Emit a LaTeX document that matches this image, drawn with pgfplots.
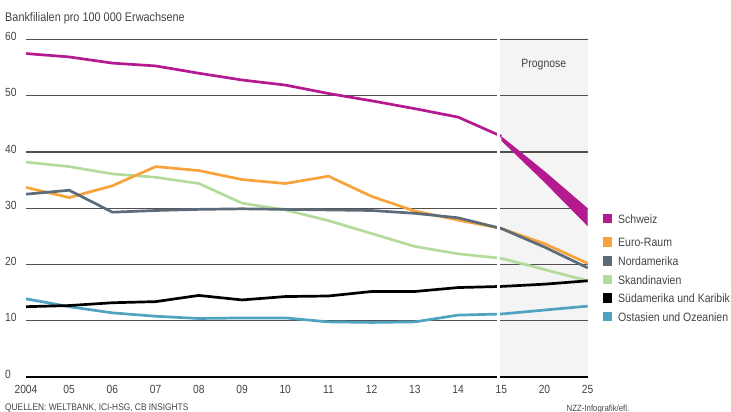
\documentclass[border=0pt]{standalone}
\usepackage{fontspec}
\setmainfont{Liberation Sans}[FakeStretch=0.87]
\usepackage{pgfplots}
\pgfplotsset{compat=1.18}
\definecolor{swiss}{HTML}{B5198F}
\definecolor{euro}{HTML}{F9A13A}
\definecolor{nord}{HTML}{5C6B7A}
\definecolor{skan}{HTML}{B4DB9C}
\definecolor{sued}{HTML}{000000}
\definecolor{asia}{HTML}{4FA3C0}
\definecolor{progbg}{HTML}{F4F4F4}
\definecolor{gridc}{HTML}{505050}
\definecolor{tickc}{HTML}{444444}
\begin{document}
\begin{tikzpicture}
\useasboundingbox (0pt,0pt) rectangle (731pt,412pt);
\fill[progbg] (500pt,35pt) rectangle (587.7pt,374pt);
\begin{axis}[
  at={(26pt,35pt)}, anchor=south west,
  scale only axis, width=561.7pt, height=337.5pt,
  xmin=0, xmax=13, ymin=0, ymax=60,
  axis line style={draw=none}, tick style={draw=none}, major tick length=0pt,
  xtick={0,...,13},
  xticklabels={2004,05,06,07,08,09,10,11,12,13,14,15,20,25},
  ytick={0,10,...,60},
  yticklabels={0,10,20,30,40,50,60},
  /pgf/number format/assume math mode=true,
  ymajorgrids, grid style={gridc, line width=1.2pt},
  xticklabel style={anchor=north, inner sep=0pt, yshift=-8pt, font=\fontsize{11.8}{12}\selectfont, text=tickc},
  yticklabel style={anchor=base west, inner sep=0pt, xshift=-21pt, yshift=-1.2pt, font=\fontsize{11.8}{12}\selectfont, text=tickc},
  clip=false,
  every axis plot/.append style={line width=2.7pt, line join=round, mark=none},
]
\addplot[black, line width=1.2pt] coordinates {(0,0)(13,0)};
\addplot[skan] coordinates {(0,38.2)(1,37.4)(2,36.1)(3,35.5)(4,34.4)(5,30.9)(6,29.7)(7,27.8)(8,25.5)(9,23.2)(10,21.9)(11,21.1)(12,19.1)(13,17.1)};
\addplot[euro] coordinates {(0,33.7)(1,31.9)(2,34.0)(3,37.4)(4,36.7)(5,35.1)(6,34.4)(7,35.7)(8,32.1)(9,29.5)(10,27.9)(11,26.4)(12,23.7)(13,20.2)};
\addplot[nord] coordinates {(0,32.5)(1,33.2)(2,29.3)(3,29.6)(4,29.8)(5,29.9)(6,29.8)(7,29.7)(8,29.6)(9,29.1)(10,28.3)(11,26.4)(12,23.1)(13,19.4)};
\addplot[asia] coordinates {(0,13.9)(1,12.5)(2,11.4)(3,10.8)(4,10.4)(5,10.5)(6,10.5)(7,9.8)(8,9.7)(9,9.8)(10,11.0)(11,11.2)(12,11.9)(13,12.6)};
\addplot[sued] coordinates {(0,12.5)(1,12.7)(2,13.2)(3,13.4)(4,14.5)(5,13.7)(6,14.3)(7,14.4)(8,15.2)(9,15.2)(10,15.9)(11,16.1)(12,16.5)(13,17.1)};
\addplot[swiss] coordinates {(0,57.5)(1,56.9)(2,55.8)(3,55.3)(4,54.0)(5,52.8)(6,51.9)(7,50.4)(8,49.1)(9,47.7)(10,46.2)(11,42.8)};
\addplot[fill=swiss, draw=none, line width=0pt] coordinates {(11,42.8)(12,36.6)(13,30.0)(13,26.8)(12,34.6)(11,42.0)} -- cycle;
\end{axis}
\draw[white, line width=3pt] (498.3pt,30pt) -- (498.3pt,377pt);
\node[anchor=base, inner sep=0pt, text=tickc, font=\fontsize{12}{12}\selectfont] at (543.8pt,344pt) {Prognose};
\node[anchor=base west, inner sep=0pt, text=tickc, font=\fontsize{12.5}{13}\selectfont] at (5pt,390.3pt) {Bankfilialen pro 100 000 Erwachsene};
\node[anchor=base west, inner sep=0pt, text=tickc, font=\fontsize{9.6}{10}\selectfont] at (5pt,1.3pt) {QUELLEN: WELTBANK, ICI-HSG, CB INSIGHTS};
\node[anchor=base, inner sep=0pt, text=tickc, font=\fontsize{9}{10}\selectfont] at (598pt,0.6pt) {NZZ-Infografik/efl.};
% legend
\fill[swiss] (602.7pt,188.7pt) rectangle (612.3pt,198.3pt);
\node[anchor=base west, inner sep=0pt, text=tickc, font=\fontsize{12.1}{13}\selectfont] at (618pt,188.7pt) {Schweiz};
\fill[euro] (602.7pt,165.3pt) rectangle (612.3pt,174.9pt);
\node[anchor=base west, inner sep=0pt, text=tickc, font=\fontsize{12.1}{13}\selectfont] at (618pt,165.3pt) {Euro-Raum};
\fill[nord] (602.7pt,146.3pt) rectangle (612.3pt,155.9pt);
\node[anchor=base west, inner sep=0pt, text=tickc, font=\fontsize{12.1}{13}\selectfont] at (618pt,146.3pt) {Nordamerika};
\fill[skan] (602.7pt,127.7pt) rectangle (612.3pt,137.3pt);
\node[anchor=base west, inner sep=0pt, text=tickc, font=\fontsize{12.1}{13}\selectfont] at (618pt,127.7pt) {Skandinavien};
\fill[sued] (602.7pt,109.3pt) rectangle (612.3pt,118.9pt);
\node[anchor=base west, inner sep=0pt, text=tickc, font=\fontsize{12.1}{13}\selectfont] at (618pt,109.3pt) {Südamerika und Karibik};
\fill[asia] (602.7pt,90.7pt) rectangle (612.3pt,100.3pt);
\node[anchor=base west, inner sep=0pt, text=tickc, font=\fontsize{12.1}{13}\selectfont] at (618pt,90.7pt) {Ostasien und Ozeanien};
\end{tikzpicture}
\end{document}
